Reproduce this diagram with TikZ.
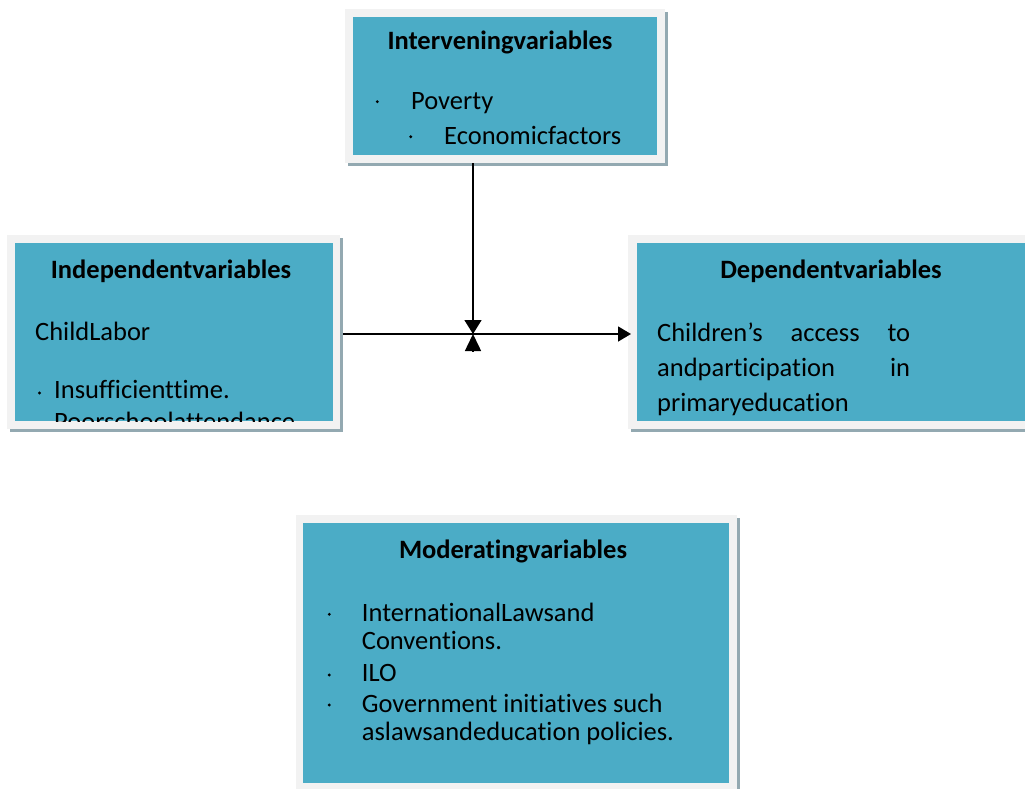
\documentclass[tikz,border=0pt]{standalone}
\usepackage{fontspec}
\setmainfont{Carlito}[Ligatures={NoCommon}]
\usetikzlibrary{arrows.meta}
\definecolor{panelblue}{HTML}{4BACC6}
\definecolor{framegrey}{HTML}{F2F2F2}
\definecolor{shadowgrey}{HTML}{93A9B1}
\begin{document}
\begin{tikzpicture}[x=1pt,y=-1pt,
  shadowbox/.style={fill=shadowgrey, inner sep=0pt, outer sep=0pt, anchor=north west},
  framebox/.style={fill=framegrey, inner sep=0pt, outer sep=0pt, anchor=north west},
  panelbox/.style={fill=panelblue, inner sep=0pt, outer sep=0pt, anchor=north west},
  head/.style={inner sep=0pt, anchor=base, font=\bfseries\fontsize{26.5}{32}\selectfont},
  body/.style={inner sep=0pt, anchor=base west, font=\fontsize{26.5}{32}\selectfont},
  dot/.style={circle, fill=black, inner sep=0pt, minimum size=3.2pt},
  conn/.style={line width=1.5pt, black}
]
\useasboundingbox (0,0) rectangle (1025,789);

% ---------- Intervening variables ----------
\node[shadowbox, minimum width=320pt, minimum height=154pt] (intvS) at (348,12) {};
\node[framebox, minimum width=320pt, minimum height=154pt] (intvF) at (345,9) {};
\node[panelbox, minimum width=304pt, minimum height=138pt] (intvP) at (353,17) {};
\node[head] (intvH) at (500,50) {Interveningvariables};
\node[dot] (intvB1) at (377.3,101.7) {};
\node[body] (intvT1) at (411,109.3) {Poverty};
\node[dot] (intvB2) at (410.7,136.7) {};
\node[body] (intvT2) at (444,144) {Economicfactors};

% ---------- Independent variables ----------
\node[shadowbox, minimum width=333pt, minimum height=194pt] (indS) at (10,238) {};
\node[framebox, minimum width=333pt, minimum height=194pt] (indF) at (7,235) {};
\node[panelbox, minimum width=318pt, minimum height=178pt] (indP) at (15,243) {};
\node[head] (indH) at (171,278.3) {Independentvariables};
\node[body] (indT0) at (35,340) {ChildLabor};
\begin{scope}
  \clip (indP.south west) rectangle (indP.north east);
  \node[dot] (indB1) at (39.5,393) {};
  \node[body] (indT1) at (54,398.3) {Insufficienttime.};
  \node[dot] (indB2) at (39.5,425) {};
  \node[body] (indT2) at (54,430) {Poorschoolattendance};
\end{scope}

% ---------- Dependent variables ----------
\node[shadowbox, minimum width=420pt, minimum height=194pt] (depS) at (631,238) {};
\node[framebox, minimum width=420pt, minimum height=194pt] (depF) at (628,235) {};
\node[panelbox, minimum width=410pt, minimum height=178pt] (depP) at (637,243) {};
\node[head] (depH) at (831,278.3) {Dependentvariables};
\node[body] (depT1) at (657,341.7) {\hbox to 253pt{Children’s\hfill access\hfill to}};
\node[body] (depT2) at (657,376.7) {\hbox to 253pt{andparticipation\hfill in}};
\node[body] (depT3) at (657,411.7) {primaryeducation};

% ---------- Moderating variables ----------
\node[shadowbox, minimum width=441pt, minimum height=275pt] (modS) at (299,518) {};
\node[framebox, minimum width=441pt, minimum height=275pt] (modF) at (296,515) {};
\node[panelbox, minimum width=426pt, minimum height=260pt] (modP) at (303,523) {};
\node[head] (modH) at (513,558.3) {Moderatingvariables};
\node[dot] (modB1) at (329.3,614.3) {};
\node[body] (modT1) at (361.7,621.7) {InternationalLawsand};
\node[body] (modT1b) at (361.7,649) {Conventions.};
\node[dot] (modB2) at (329.3,675) {};
\node[body] (modT2) at (361.7,681.7) {ILO};
\node[dot] (modB3) at (329.3,705) {};
\node[body] (modT3) at (361.7,712.3) {Government initiatives such};
\node[body] (modT3b) at (361.7,740) {aslawsandeducation policies.};

% ---------- Connectors ----------
\coordinate (junc) at (473,334);
\coordinate (juncLow) at (473,351);
\draw[conn, -{Triangle[length=14pt,width=17pt]}] (intvF.south -| junc) -- (junc);
\draw[conn, -{Triangle[length=13pt,width=15pt]}] (indS.east |- junc) -- (depS.west |- junc);
\draw[conn, -{Triangle[length=17pt,width=16pt]}] (juncLow) -- (junc);
\end{tikzpicture}
\end{document}
